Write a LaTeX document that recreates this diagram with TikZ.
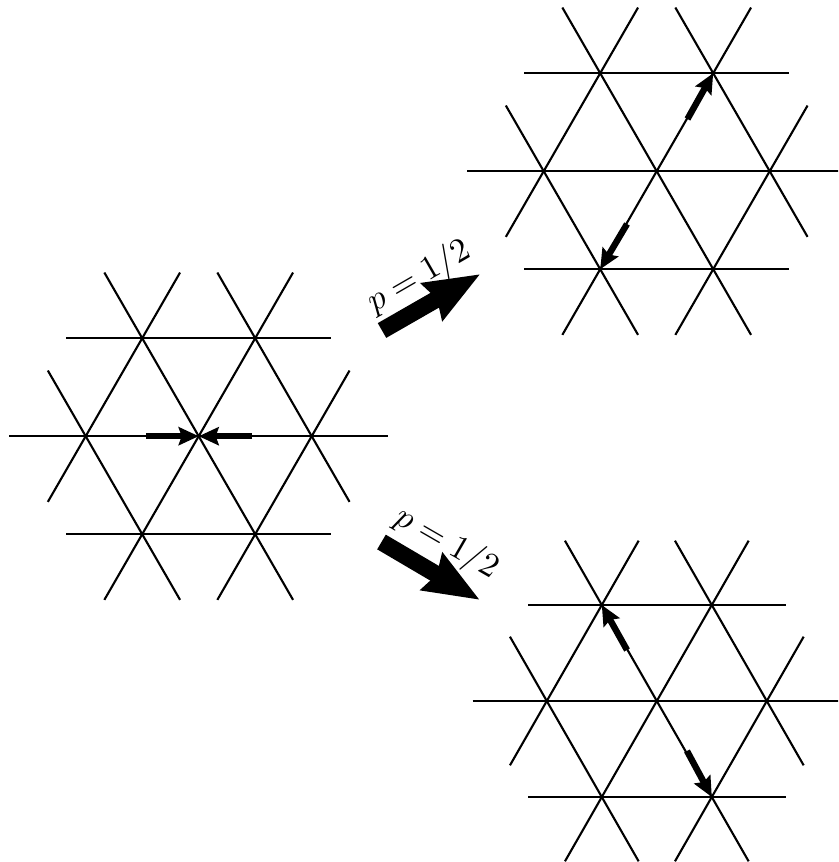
\documentclass[tikz,border=0pt]{standalone}
\usetikzlibrary{arrows.meta}
\tikzset{
  latline/.style={line width=2.1pt,black,line cap=butt},
  smallarrow/.style={line width=6.4pt,black,-{Stealth[length=20pt,width=18pt,inset=3pt]}},
  bigarrow/.style={line width=17pt,black,-{Stealth[length=55pt,width=41pt,inset=5pt]}},
  problabel/.style={scale=3.4,inner sep=0pt}
}
\newcommand{\lattice}[5]{%
  \begin{scope}[xshift=#2pt,yshift=-#3pt,x=#4pt,y=-#5pt]
    \coordinate (#1c) at (0,0);
    \coordinate (#1nw) at (-1,-1);
    \coordinate (#1ne) at (1,-1);
    \coordinate (#1w) at (-2,0);
    \coordinate (#1e) at (2,0);
    \coordinate (#1sw) at (-1,1);
    \coordinate (#1se) at (1,1);
    \draw[latline] (-2.34,-1) -- (#1nw) -- (#1ne) -- (2.34,-1);
    \draw[latline] (-3.35,0) -- (#1w) -- (#1c) -- (#1e) -- (3.35,0);
    \draw[latline] (-2.34,1) -- (#1sw) -- (#1se) -- (2.34,1);
    \draw[latline] (-1.67,-1.67) -- (#1nw) -- (#1c) -- (#1se) -- (1.67,1.67);
    \draw[latline] (1.67,-1.67) -- (#1ne) -- (#1c) -- (#1sw) -- (-1.67,1.67);
    \draw[latline] (0.33,-1.67) -- (#1ne) -- (#1e) -- (2.67,0.67);
    \draw[latline] (-0.33,-1.67) -- (#1nw) -- (#1w) -- (-2.67,0.67);
    \draw[latline] (-2.67,-0.67) -- (#1w) -- (#1sw) -- (-0.33,1.67);
    \draw[latline] (2.67,-0.67) -- (#1e) -- (#1se) -- (0.33,1.67);
  \end{scope}}
\begin{document}
\begin{tikzpicture}[x=1pt,y=-1pt]
  \useasboundingbox (0,0) rectangle (838,862);
  \clip (0,0) rectangle (838,862);
  \lattice{L}{198.7}{436.2}{56.5}{98}
  \lattice{T}{656.7}{171.2}{56.5}{98}
  \lattice{B}{656.8}{701}{55}{96}
  % small arrows, left lattice
  \coordinate (La) at (146,436.2);
  \coordinate (Lb) at (252,436.2);
  \draw[smallarrow] (La) -- (Lc);
  \draw[smallarrow] (Lb) -- (Lc);
  % small arrows, top lattice
  \coordinate (Ta) at (687.5,119);
  \coordinate (Tb) at (627,224);
  \draw[smallarrow] (Ta) -- (Tne);
  \draw[smallarrow] (Tb) -- (Tsw);
  % small arrows, bottom lattice
  \coordinate (Ba) at (627,650);
  \coordinate (Bb) at (687,751);
  \draw[smallarrow] (Ba) -- (Bnw);
  \draw[smallarrow] (Bb) -- (Bse);
  % big arrows
  \coordinate (Ua) at (382,330.5);
  \coordinate (Ub) at (480.5,274);
  \coordinate (Da) at (381.5,542);
  \coordinate (Db) at (480,600);
  \draw[bigarrow] (Ua) -- (Ub);
  \draw[bigarrow] (Da) -- (Db);
  \node[problabel,rotate=30] (pu) at (419,277) {$p=1/2$};
  \node[problabel,rotate=-30] (pd) at (446.5,543) {$p=1/2$};
\end{tikzpicture}
\end{document}
